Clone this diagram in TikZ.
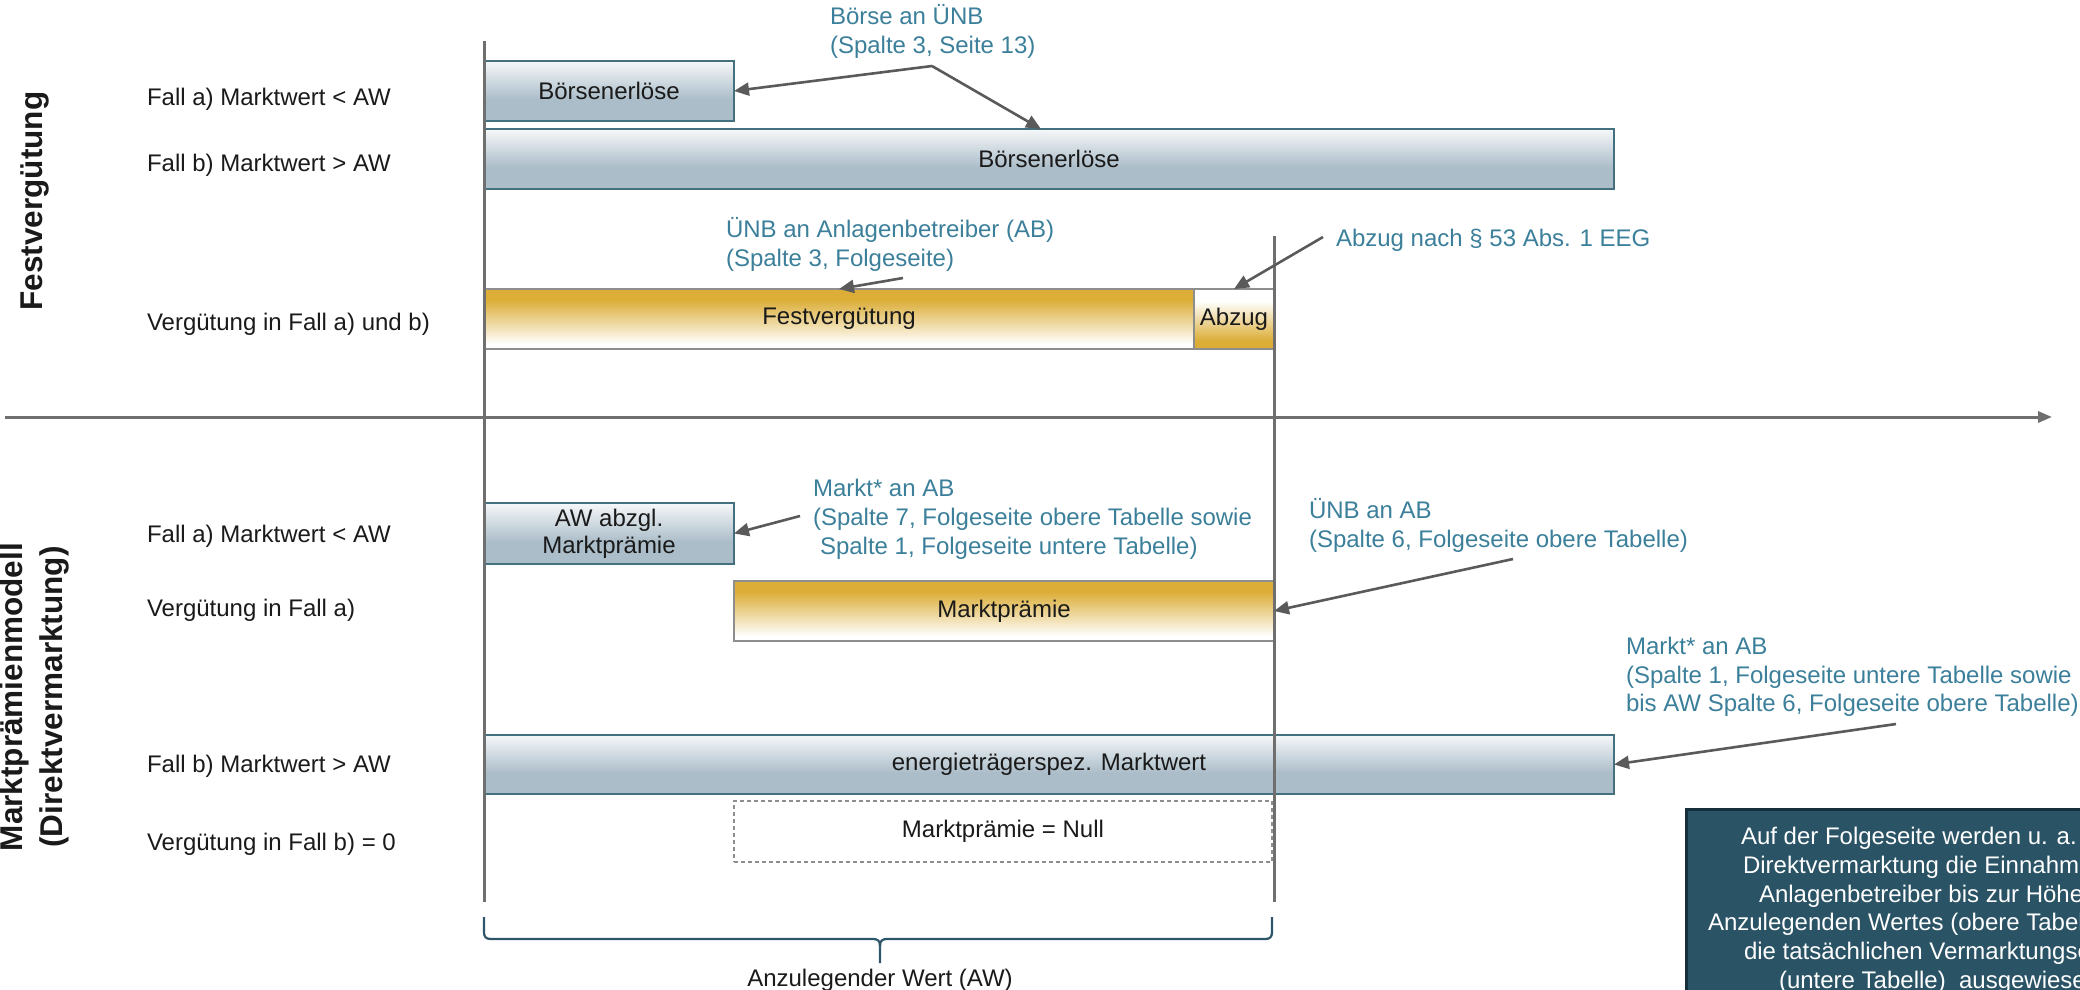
\documentclass[tikz,border=0pt]{standalone}
\usepackage{fontspec}
\setmainfont{Liberation Sans}
\usetikzlibrary{arrows.meta,calc}

\definecolor{bluetop}{HTML}{F4F6F8}
\definecolor{bluebot}{HTML}{ABBDC9}
\definecolor{blueedge}{HTML}{44707F}
\definecolor{goldc}{HTML}{DCAE38}
\definecolor{goldedge}{HTML}{8E8E8E}
\definecolor{calltext}{HTML}{3B7F9A}
\definecolor{arrowgray}{HTML}{5A5A5A}
\definecolor{axisgray}{HTML}{6F6F6F}
\definecolor{darkbox}{HTML}{2A5365}
\definecolor{darkedge}{HTML}{16303B}
\definecolor{labeltext}{HTML}{1A1A1A}
\definecolor{bracec}{HTML}{2D5669}

\pgfdeclareverticalshading{blueshade}{100bp}{color(0bp)=(bluebot); color(25bp)=(bluebot); color(43bp)=(bluebot); color(74bp)=(bluetop); color(100bp)=(bluetop)}
\pgfdeclareverticalshading{goldshade}{100bp}{color(0bp)=(white); color(25bp)=(white); color(29bp)=(white); color(66bp)=(goldc); color(100bp)=(goldc)}
\pgfdeclareverticalshading{goldupshade}{100bp}{color(0bp)=(goldc); color(25bp)=(goldc); color(32bp)=(goldc); color(65bp)=(white); color(100bp)=(white)}

\begin{document}
\begin{tikzpicture}[x=1pt,y=-1pt,
  font=\fontsize{24}{28.8}\selectfont,
  every node/.style={inner sep=0pt,outer sep=0pt},
  lbl/.style={anchor=base west, text=labeltext},
  call/.style={anchor=base west, text=calltext},
  boxbase/.style={anchor=north west, text=labeltext},
  bluebox/.style={boxbase, draw=blueedge, line width=1.6pt, shade, shading=blueshade},
  goldbox/.style={boxbase, draw=goldedge, line width=1.2pt, shade, shading=goldshade},
  goldupbox/.style={boxbase, draw=goldedge, line width=1.2pt, shade, shading=goldupshade},
  nullbox/.style={boxbase, draw=goldedge, dash pattern=on 4pt off 3pt, line width=1.2pt},
  callarrow/.style={draw=arrowgray, line width=2.6pt, -{Triangle[length=15pt,width=13pt]}},
  guide/.style={draw=axisgray, line width=3pt},
  title/.style={font=\fontsize{31.5}{38}\selectfont\bfseries, text=labeltext, rotate=90, anchor=base},
  notetext/.style={anchor=base west, text=white},
  bracestyle/.style={draw=bracec, line width=2.2pt}
  ]
\useasboundingbox (0,0) rectangle (2080,990);
\begin{scope}
\clip (0,0) rectangle (2080,990);

% titles
\node[title] (t1) at (42.5,201) {Festvergütung};
\node[title] (t2a) at (23,697) {Marktprämienmodell};
\node[title] (t2b) at (62,697) {(Direktvermarktung)};

% left labels
\node[lbl] (l1) at (147,105) {Fall a) Marktwert < AW};
\node[lbl] (l2) at (147,171) {Fall b) Marktwert > AW};
\node[lbl] (l3) at (147,330) {Vergütung in Fall a) und b)};
\node[lbl] (l4) at (147,542) {Fall a) Marktwert < AW};
\node[lbl] (l5) at (147,616) {Vergütung in Fall a)};
\node[lbl] (l6) at (147,772) {Fall b) Marktwert > AW};
\node[lbl] (l7) at (147,850) {Vergütung in Fall b) = 0};

% boxes
\node[bluebox, minimum width=250pt, minimum height=60pt] (ba) at (484,61) {Börsenerlöse};
\node[bluebox, minimum width=1130pt, minimum height=60pt] (bb) at (484,129) {Börsenerlöse};
\node[goldbox, minimum width=710pt, minimum height=60pt] (fv) at (484,289) {Festvergütung};
\node[goldupbox, minimum width=80pt, minimum height=60pt] (abz) at (1194,289) {Abzug};
\node[bluebox, minimum width=250pt, minimum height=61pt, align=center, font=\fontsize{24}{27}\selectfont] (aw) at (484,503) {AW abzgl.\\Marktprämie};
\node[goldbox, minimum width=540pt, minimum height=60pt] (mp) at (734,581) {Marktprämie};
\node[bluebox, minimum width=1130pt, minimum height=59pt] (em) at (484,735) {energieträgerspez. Marktwert};
\node[nullbox, minimum width=538pt, minimum height=61pt] (nb) at (734,801) {Marktprämie = Null};

% guide lines
\coordinate (v1t) at (484,41);
\coordinate (v1b) at (484,902);
\coordinate (v2t) at (1274,236);
\coordinate (v2b) at (1274,902);
\coordinate (axL) at (5,417);
\coordinate (axR) at (2052,417);
\draw[guide] (v1t) -- (v1b);
\draw[guide] (v2t) -- (v2b);
\draw[guide, -{Triangle[length=14pt,width=11pt]}] (axL) -- (axR);

% callouts
\node[call] (c1a) at (830,25) {Börse an ÜNB};
\node[call] (c1b) at (830,54) {(Spalte 3, Seite 13)};
\node[call] (c2a) at (726,237) {ÜNB an Anlagenbetreiber (AB)};
\node[call] (c2b) at (726,266) {(Spalte 3, Folgeseite)};
\node[call] (c3) at (1336,246) {Abzug nach § 53 Abs. 1 EEG};
\node[call] (c4a) at (813,496) {Markt* an AB};
\node[call] (c4b) at (813,525) {(Spalte 7, Folgeseite obere Tabelle sowie};
\node[call] (c4c) at (820,554) {Spalte 1, Folgeseite untere Tabelle)};
\node[call] (c5a) at (1309,518) {ÜNB an AB};
\node[call] (c5b) at (1309,547) {(Spalte 6, Folgeseite obere Tabelle)};
\node[call] (c6a) at (1626,654) {Markt* an AB};
\node[call] (c6b) at (1626,683) {(Spalte 1, Folgeseite untere Tabelle sowie};
\node[call] (c6c) at (1626,711) {bis AW Spalte 6, Folgeseite obere Tabelle)};

% arrow start points
\coordinate (c1j) at (932,66);
\coordinate (c2s) at (903,278);
\coordinate (c3s) at (1323,237);
\coordinate (c4s) at (800,516);
\coordinate (c5s) at (1513,559);
\coordinate (c6s) at (1896,724);

\draw[callarrow] (c1j) -- (ba.east);
\draw[callarrow] (c1j) -- ([xshift=-8pt]bb.north);
\draw[callarrow] (c2s) -- (fv.north);
\draw[callarrow] (c3s) -- (abz.north);
\draw[callarrow] (c4s) -- (aw.east);
\draw[callarrow] (c5s) -- (mp.east);
\draw[callarrow] (c6s) -- (em.east);

% brace
\draw[bracestyle] (484,917) -- (484,932) .. controls (484,937) and (486,939) .. (491,939) -- (873,939) .. controls (878,939) and (880,941) .. (880,946) -- (880,963);
\draw[bracestyle] (1272,917) -- (1272,932) .. controls (1272,937) and (1270,939) .. (1265,939) -- (887,939) .. controls (882,939) and (880,941) .. (880,946);
\node[anchor=base, text=labeltext] (awl) at (880,986) {Anzulegender Wert (AW)};

% note box (cut at picture edge)
\node[draw=darkedge, fill=darkbox, line width=3pt, anchor=north west, minimum width=500pt, minimum height=300pt] (db) at (1686,809) {};
\node[notetext] (n1) at (1741,844.5) {Auf der Folgeseite werden u. a.};
\node[notetext] (n2) at (1743,873.3) {Direktvermarktung die Einnahmen};
\node[notetext] (n3) at (1759,902.1) {Anlagenbetreiber bis zur Höhe};
\node[notetext] (n4) at (1708,930.9) {Anzulegenden Wertes (obere Tabelle)};
\node[notetext] (n5) at (1744,959.7) {die tatsächlichen Vermarktungserlöse};
\node[notetext] (n6) at (1779,988.5) {(untere Tabelle)\ \ ausgewiesen};
\end{scope}
\end{tikzpicture}
\end{document}
